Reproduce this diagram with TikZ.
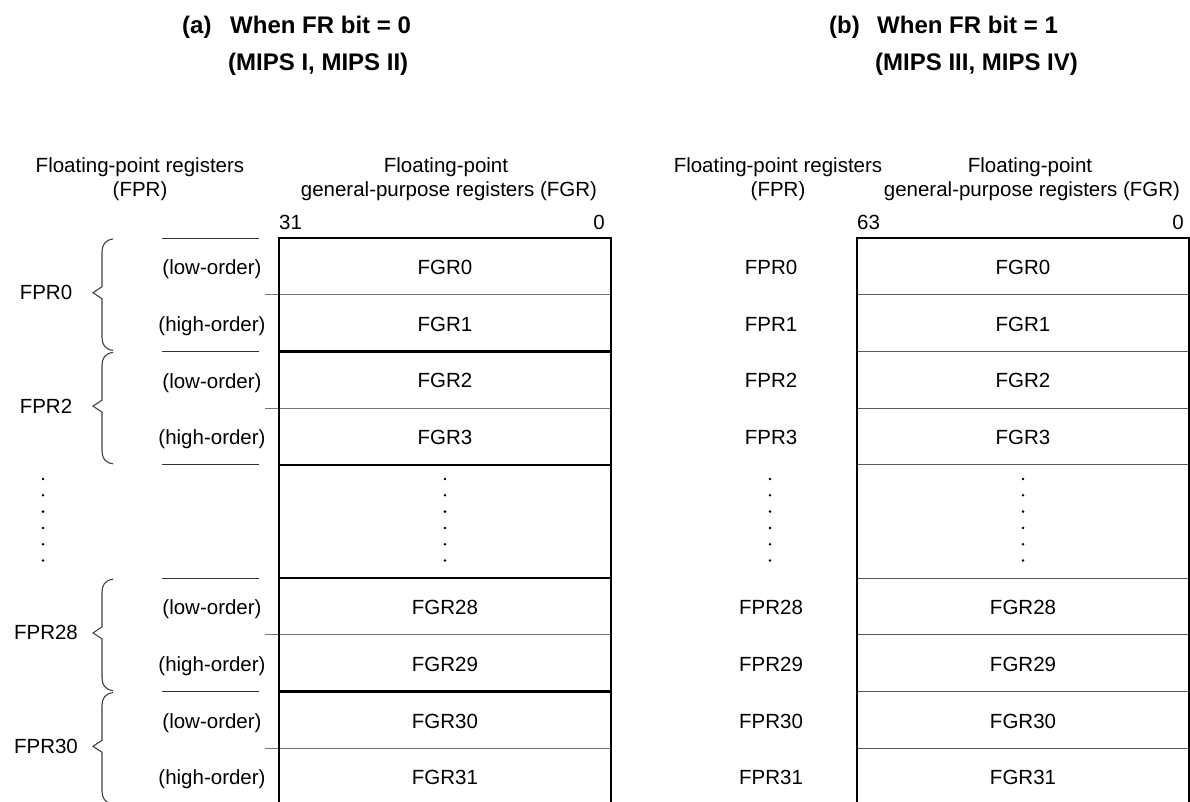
\documentclass[tikz,border=0pt]{standalone}
\usepackage{fontspec}
\setmainfont{Liberation Sans}
\begin{document}
\begin{tikzpicture}[x=1pt,y=-1pt,
  txt/.style={inner sep=0pt,font=\fontsize{20.5}{24}\selectfont},
  ttl/.style={inner sep=0pt,anchor=base west,font=\fontsize{24}{28}\selectfont\bfseries},
  boxedge/.style={line width=2.6pt,black},
  pairsep/.style={line width=2.4pt,black},
  midsep/.style={line width=1.1pt,black!55},
  rsep/.style={line width=1.1pt,black!65},
  tick/.style={line width=1pt,black!80},
  bracestyle/.style={line width=1.1pt,black!75,line join=miter},
  dotmark/.style={fill=black,draw=none}]
\useasboundingbox (0,0) rectangle (1190,801);
\clip (0,0) rectangle (1190,801);
% row boundaries
\def\Bzero{238}\def\Bone{294.7}\def\Btwo{351.4}\def\Bthree{408.1}\def\Bfour{464.8}
\def\Bfive{578.2}\def\Bsix{634.9}\def\Bseven{691.6}\def\Beight{748.3}\def\Bnine{805}
% titles
\node[ttl] (ta1) at (182,33) {(a)};
\node[ttl] (ta2) at (230,33) {When FR bit = 0};
\node[ttl] (ta3) at (228,70) {(MIPS I, MIPS II)};
\node[ttl] (tb1) at (829,33) {(b)};
\node[ttl] (tb2) at (877,33) {When FR bit = 1};
\node[ttl] (tb3) at (875,70) {(MIPS III, MIPS IV)};
% headers left
\node[txt] (hl1) at (140,167) {Floating-point registers};
\node[txt] (hl2) at (140,191) {(FPR)};
\node[txt] (hl3) at (446,167) {Floating-point};
\node[txt] (hl4) at (449,191) {general-purpose registers (FGR)};
\node[txt,anchor=west] (b31) at (279,222) {31};
\node[txt,anchor=east] (b0l) at (605,222) {0};
% headers right
\node[txt] (hr1) at (778,167) {Floating-point registers};
\node[txt] (hr2) at (778,191) {(FPR)};
\node[txt] (hr3) at (1030,167) {Floating-point};
\node[txt] (hr4) at (1032,191) {general-purpose registers (FGR)};
\node[txt,anchor=west] (b63) at (857,222) {63};
\node[txt,anchor=east] (b0r) at (1184,222) {0};
% ---------- left box ----------
\foreach \y in {\Bone,\Bthree,\Bsix,\Beight} \draw[midsep] (265,\y) -- (611,\y);
\foreach \y in {\Btwo,\Bfour,\Bfive,\Bseven} \draw[pairsep] (279,\y) -- (611,\y);
\foreach \y in {\Bzero,\Btwo,\Bfour,\Bfive,\Bseven} \draw[tick] (162,\y) -- (259,\y);
\draw[boxedge] (279,805) -- (279,\Bzero) -- (611,\Bzero) -- (611,805);
% ---------- right box ----------
\foreach \y in {\Bone,\Btwo,\Bthree,\Bfour,\Bfive,\Bsix,\Bseven,\Beight} \draw[rsep] (857,\y) -- (1189,\y);
\draw[boxedge] (857,805) -- (857,\Bzero) -- (1189,\Bzero) -- (1189,805);
% ---------- rows ----------
\foreach \a/\b/\n/\lo/\hi in {\Bzero/\Bone/0/low/a,\Bone/\Btwo/1/high/b,\Btwo/\Bthree/2/low/a,\Bthree/\Bfour/3/high/b,
  \Bfive/\Bsix/28/low/a,\Bsix/\Bseven/29/high/b,\Bseven/\Beight/30/low/a,\Beight/\Bnine/31/high/b}{
  \pgfmathsetmacro{\c}{(\a+\b)/2+1}
  \node[txt] (lg\n) at (445,\c) {FGR\n};
  \node[txt] (ord\n) at (212,\c+2) {(\lo-order)};
  \node[txt] (rp\n) at (771,\c) {FPR\n};
  \node[txt] (rg\n) at (1023,\c) {FGR\n};
}
% ---------- braces and FPR labels left ----------
\foreach \a/\b/\n in {\Bzero/\Btwo/0,\Btwo/\Bfour/2,\Bfive/\Bseven/28,\Bseven/\Bnine/30}{
  \pgfmathsetmacro{\m}{(\a+\b)/2-2}
  \draw[bracestyle] (113,\a+1) .. controls (105,\a+2) and (102,\a+7) .. (102,\a+14)
     -- (102,\m-6) -- (93,\m) -- (102,\m+6) -- (102,\b-14)
     .. controls (102,\b-7) and (105,\b-2) .. (113,\b-1);
  \node[txt] (lp\n) at (46,\m) {FPR\n};
}
% ---------- dots ----------
\foreach \k in {0,...,5}{
  \fill[dotmark] (43,479+16.3*\k) circle (1.4);
  \fill[dotmark] (445,479+16.3*\k) circle (1.4);
  \fill[dotmark] (770,479+16.3*\k) circle (1.4);
  \fill[dotmark] (1023,479+16.3*\k) circle (1.4);
}
\end{tikzpicture}
\end{document}
